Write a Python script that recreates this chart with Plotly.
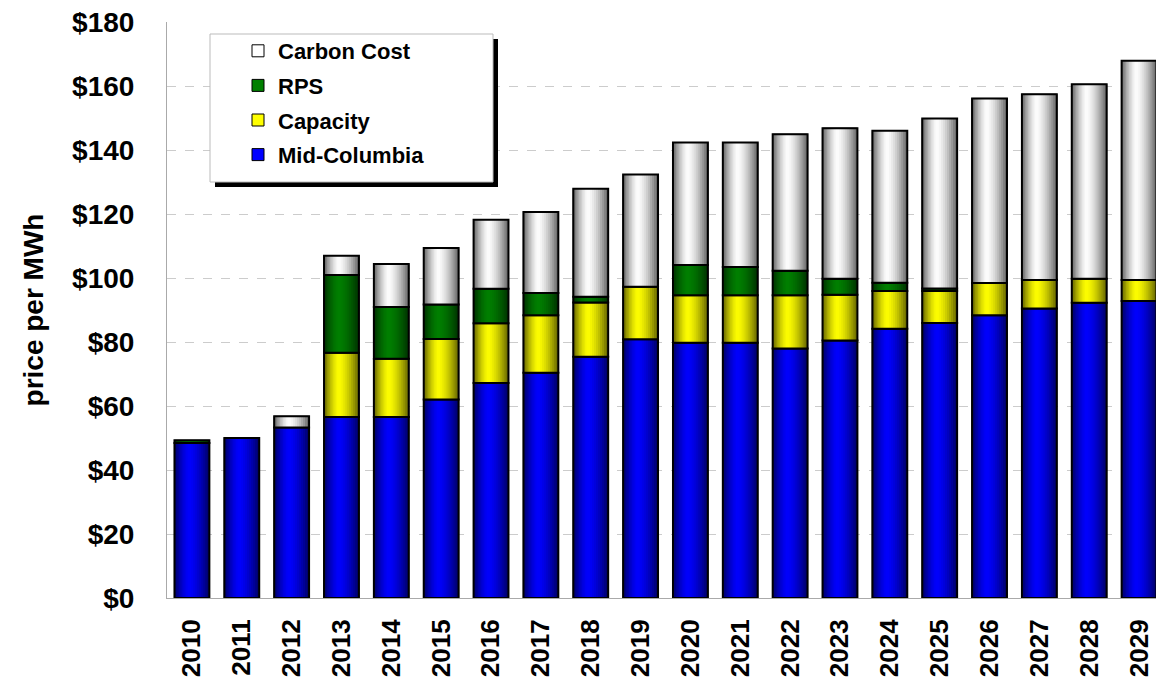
import plotly.graph_objects as go

years = [str(y) for y in range(2010, 2030)]
mid_columbia = [48.5, 50.0, 53.3, 56.6, 56.6, 62.1, 67.2, 70.4, 75.4, 80.9,
                79.8, 79.8, 78.0, 80.5, 84.2, 86.0, 88.4, 90.5, 92.3, 92.9]
capacity = [0, 0, 0, 20.1, 18.2, 18.9, 18.7, 18.0, 17.0, 16.4,
            14.9, 14.9, 16.7, 14.3, 11.8, 10.0, 10.1, 8.9, 7.5, 6.5]
rps = [0.8, 0, 0, 24.3, 16.2, 10.8, 10.8, 7.0, 1.8, 0,
       9.4, 8.8, 7.6, 5.0, 2.6, 0.8, 0, 0, 0, 0]
carbon = [0, 0, 3.5, 6.0, 13.4, 17.6, 21.6, 25.3, 33.8, 35.1,
          38.3, 38.9, 42.7, 47.1, 47.5, 53.1, 57.7, 58.1, 60.8, 68.6]
y_ticks = [0, 20, 40, 60, 80, 100, 120, 140, 160, 180]
y_tick_labels = ["$" + str(v) for v in y_ticks]

series = [
    ("Mid-Columbia", mid_columbia, (0, 0, 255)),
    ("Capacity", capacity, (255, 255, 0)),
    ("RPS", rps, (0, 128, 0)),
    ("Carbon Cost", carbon, (255, 255, 255)),
]
legend_rank = {"Carbon Cost": 1, "RPS": 2, "Capacity": 3, "Mid-Columbia": 4}

W = 0.7          # bar width (category units)
P = 0.42         # position of highlight across the bar
N = 10           # gradient levels
EDGE = 0.42      # brightness at bar edges

fig = go.Figure()
base = [0.0] * len(years)
for name, vals, rgb in series:
    ys = [v if v > 0 else None for v in vals]
    bs = list(base)
    fig.add_trace(go.Bar(
        x=years, y=ys, base=bs, name=name, width=W,
        marker=dict(color="rgb(%d,%d,%d)" % rgb, line=dict(color="black", width=1)),
        legendgroup=name, legendrank=legend_rank[name], showlegend=True,
        hoverinfo="skip"))
    for k in range(N):
        frac = 1 - k / N
        f = 1 - (1 - EDGE) * frac ** 1.6
        col = "rgb(%d,%d,%d)" % tuple(int(round(c * f)) for c in rgb)
        fig.add_trace(go.Bar(
            x=years, y=ys, base=bs, width=W * frac,
            offset=-W / 2 + W * P * (k / N),
            marker=dict(color=col, line=dict(width=0)),
            legendgroup=name, showlegend=False, hoverinfo="skip"))
    fig.add_trace(go.Bar(
        x=years, y=ys, base=bs, width=W,
        marker=dict(color="rgba(0,0,0,0)", line=dict(color="black", width=2)),
        legendgroup=name, showlegend=False, hoverinfo="skip"))
    base = [b + v for b, v in zip(base, vals)]

# the page body adds an 8px offset; geometry below is in screen pixels
OFF = 8
FW, FH = 1164 - OFF, 696 - OFF
L, T, PW, PH = 167, 22, 997, 576


def px(x):
    return (x - L) / PW


def py(y):
    return (T + PH - y) / PH


fig.add_shape(type="rect", xref="paper", yref="paper",
              x0=px(215), x1=px(498), y0=py(187), y1=py(39),
              fillcolor="black", line=dict(width=0), layer="above")
fig.add_shape(type="rect", xref="paper", yref="paper",
              x0=px(210), x1=px(493), y0=py(182), y1=py(34),
              fillcolor="white", line=dict(color="#bbbbbb", width=1), layer="above")

fig.update_layout(
    width=FW, height=FH,
    margin=dict(l=L - OFF, r=FW - (L - OFF) - PW, t=T - OFF,
                b=FH - (T - OFF) - PH, autoexpand=False),
    paper_bgcolor="white", plot_bgcolor="white",
    barmode="overlay",
    font=dict(family="Liberation Sans, Arial, sans-serif", color="black"),
    legend=dict(x=px(238), y=py(30), xanchor="left", yanchor="top",
                bgcolor="rgba(0,0,0,0)", borderwidth=0,
                font=dict(size=22, weight="bold"),
                tracegroupgap=3, itemwidth=30),
    xaxis=dict(type="category", showline=True, linecolor="#aaaaaa", linewidth=1,
               tickangle=-90, tickfont=dict(size=26, weight="bold"),
               ticks="", ticklabelstandoff=10, range=[-0.5, 19.5], automargin=False),
    yaxis=dict(range=[0, 180.1], tickvals=y_ticks, ticktext=y_tick_labels,
               showline=True, linecolor="#aaaaaa", linewidth=1,
               showgrid=True, gridcolor="#cccccc", griddash="dash",
               tickfont=dict(size=28, weight="bold"), ticklabelstandoff=26,
               ticklabeloverflow="allow",
               title=dict(text="price per MWh", font=dict(size=28, weight="bold"),
                          standoff=20),
               zeroline=False, automargin=False),
)

fig.write_html("out.html")
